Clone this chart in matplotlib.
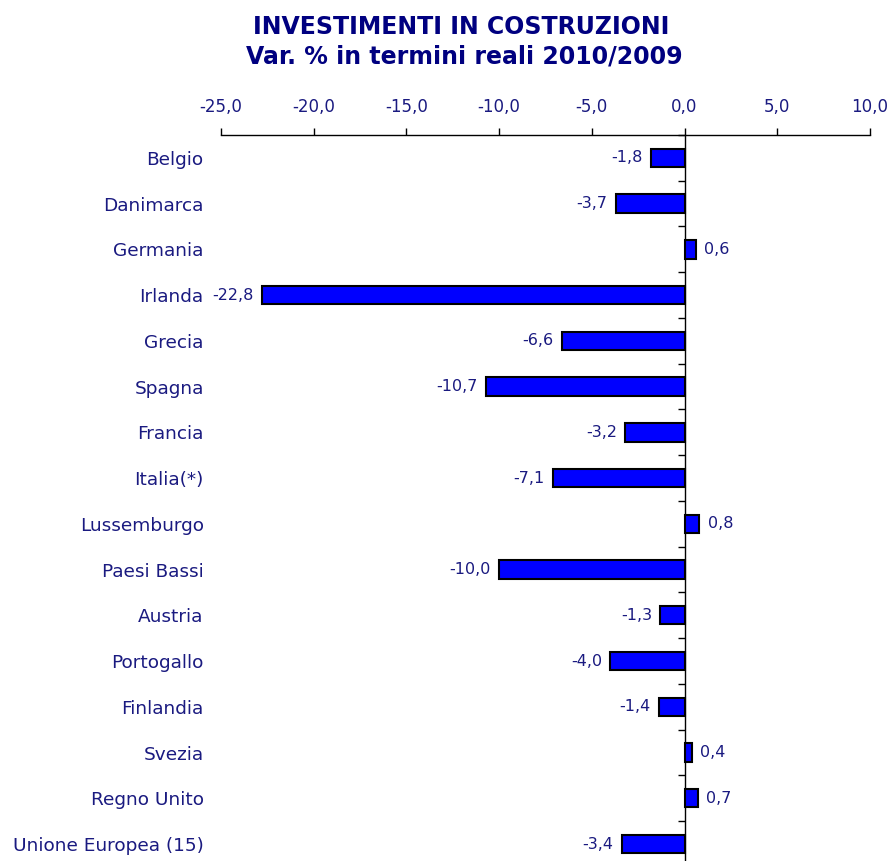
import matplotlib.pyplot as plt
from matplotlib.ticker import FixedLocator, FuncFormatter

countries = ["Belgio", "Danimarca", "Germania", "Irlanda", "Grecia", "Spagna",
             "Francia", "Italia(*)", "Lussemburgo", "Paesi Bassi", "Austria",
             "Portogallo", "Finlandia", "Svezia", "Regno Unito",
             "Unione Europea (15)"]
changes = [-1.8, -3.7, 0.6, -22.8, -6.6, -10.7, -3.2, -7.1, 0.8, -10.0,
           -1.3, -4.0, -1.4, 0.4, 0.7, -3.4]
x_ticks = [-25, -20, -15, -10, -5, 0, 5, 10]

navy = "#1a1a80"
plt.rcParams["font.family"] = ["DejaVu Sans"]

fig = plt.figure(figsize=(8.89, 8.61), dpi=100)
ax = fig.add_axes([0.2486, 0.0, 0.7300, 0.8432])

ypos = list(range(len(countries)))
bars = ax.barh(ypos, changes, height=0.4, color="#0000ff",
               edgecolor="black", linewidth=1.5, zorder=3)

# value labels with comma decimal
labels = [f"{v:.1f}".replace(".", ",") for v in changes]
ax.bar_label(bars, labels=labels, padding=6, fontsize=11.5, color=navy)

ax.set_xlim(-25, 10)
ax.set_ylim(15.37, -0.5)

# x axis on top
ax.xaxis.set_ticks_position("top")
ax.xaxis.set_label_position("top")
ax.set_xticks(x_ticks)
ax.xaxis.set_major_formatter(FuncFormatter(lambda v, p: f"{v:.1f}".replace(".", ",")))
ax.tick_params(axis="x", direction="out", length=5, width=1, pad=9,
               labelsize=12, labelcolor=navy, color="black")

# category labels on the left, vertical zero line with ticks between rows
ax.set_yticks(ypos)
ax.set_yticklabels(countries)
ax.yaxis.set_minor_locator(FixedLocator([i + 0.5 for i in range(-1, len(countries))]))
ax.tick_params(axis="y", which="major", left=False, right=False,
               labelleft=True, labelright=False, pad=9,
               labelsize=13.3, labelcolor=navy)
ax.tick_params(axis="y", which="minor", left=False, right=True,
               direction="in", length=5, width=1, color="black")

ax.spines["right"].set_position(("data", 0))
ax.spines["right"].set_linewidth(1)
ax.spines["left"].set_visible(False)
ax.spines["bottom"].set_visible(False)
ax.spines["top"].set_linewidth(1)

fig.text(0.5185, 0.9605, "INVESTIMENTI IN COSTRUZIONI", ha="center", va="baseline",
         fontsize=17, fontweight="bold", color="#000080")
fig.text(0.5225, 0.9268, "Var. % in termini reali 2010/2009", ha="center", va="baseline",
         fontsize=17, fontweight="bold", color="#000080")

fig.savefig("out.png", dpi=100)
